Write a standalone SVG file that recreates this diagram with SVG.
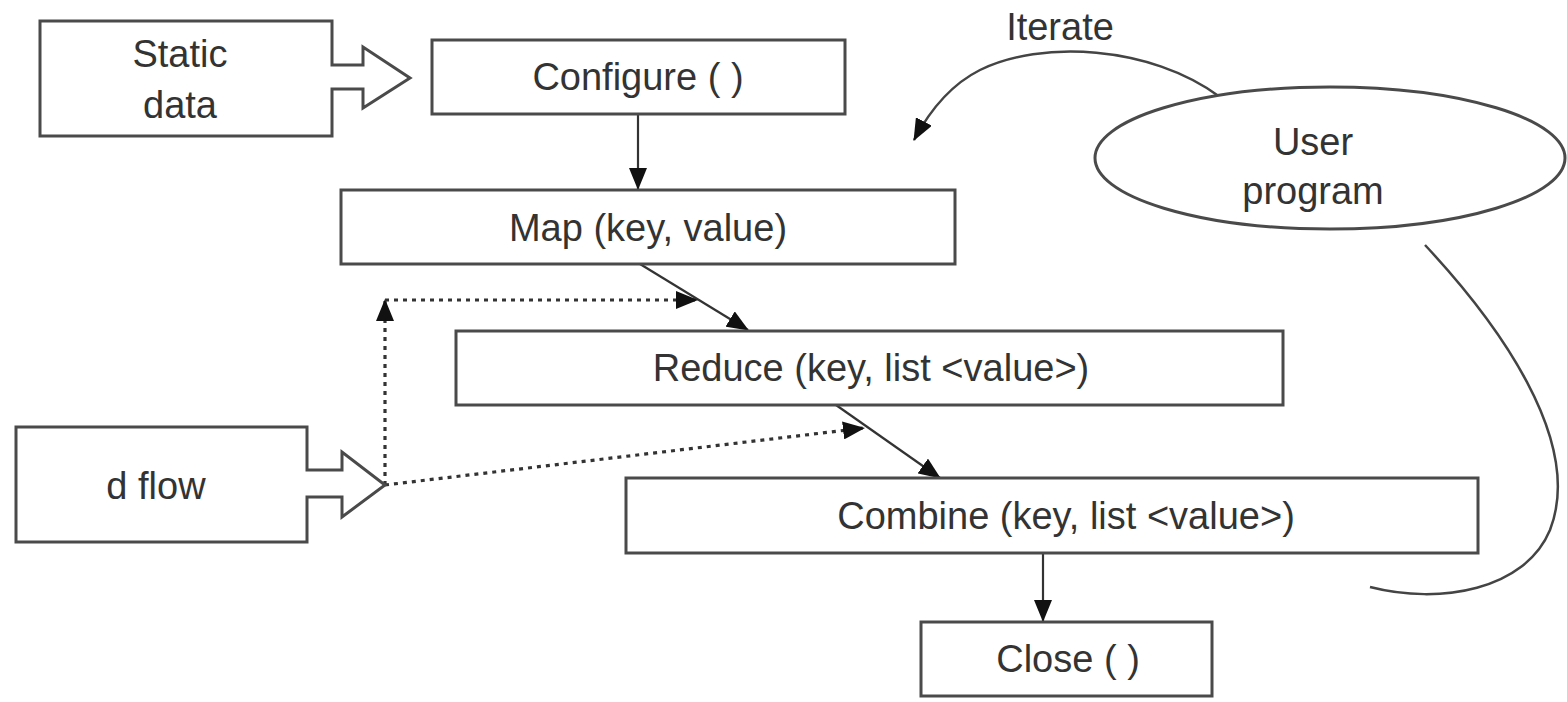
<svg xmlns="http://www.w3.org/2000/svg" width="1567" height="702" viewBox="0 0 1567 702">
  <defs>
    <style>
      .box { fill: #ffffff; stroke: #4a4a4a; stroke-width: 3; stroke-linejoin: miter; }
      .lbl { font-family: "Liberation Sans", Arial, sans-serif; font-size: 38px; fill: #333333; text-anchor: middle; }
      .line { fill: none; stroke: #333333; stroke-width: 2.2; }
      .dot { fill: none; stroke: #333333; stroke-width: 3.2; stroke-dasharray: 4 5; }
      .curve { fill: none; stroke: #444444; stroke-width: 2.5; }
    </style>
    <marker id="tri" viewBox="0 0 22 18" refX="21" refY="9" markerWidth="22" markerHeight="18" markerUnits="userSpaceOnUse" orient="auto">
      <path d="M0,0 L22,9 L0,18 Z" fill="#111111"/>
    </marker>
  </defs>

  <rect width="1567" height="702" fill="#ffffff"/>

  <!-- connectors -->
  <g id="connectors">
    <line class="line" x1="638" y1="114" x2="638" y2="189" marker-end="url(#tri)"/>
    <line class="line" x1="640" y1="264" x2="748" y2="330" marker-end="url(#tri)"/>
    <line class="line" x1="836" y1="405" x2="940" y2="478" marker-end="url(#tri)"/>
    <line class="line" x1="1043" y1="553" x2="1043" y2="621" marker-end="url(#tri)"/>
    <!-- dotted data-flow feeds -->
    <line class="dot" x1="385" y1="485" x2="385" y2="300" marker-end="url(#tri)"/>
    <line class="dot" x1="385" y1="300" x2="697" y2="300" marker-end="url(#tri)"/>
    <line class="dot" x1="385" y1="485" x2="864" y2="428" marker-end="url(#tri)"/>
    <!-- iterate loop -->
    <path class="curve" d="M1220,97 C1150,45 1040,40 980,70 C950,85 930,110 914,140" marker-end="url(#tri)"/>
    <path class="curve" d="M1425,245 C1495,320 1585,440 1550,530 C1525,590 1440,605 1370,587"/>
  </g>

  <!-- box with block arrow drawn as one outline -->
  <g id="static-data">
    <path class="box" d="M40,21 L332,21 L332,65 L363,65 L363,47 L410,78 L363,108 L363,89 L332,89 L332,136 L40,136 Z"/>
    <text class="lbl" x="180" y="67">Static</text>
    <text class="lbl" x="180" y="118">data</text>
  </g>

  <g id="configure">
    <rect class="box" x="432" y="40" width="413" height="74"/>
    <text class="lbl" x="638" y="90">Configure ( )</text>
  </g>

  <g id="map">
    <rect class="box" x="341" y="190" width="614" height="74"/>
    <text class="lbl" x="648" y="241">Map (key, value)</text>
  </g>

  <g id="reduce">
    <rect class="box" x="456" y="331" width="827" height="74"/>
    <text class="lbl" x="871" y="381">Reduce (key, list &lt;value&gt;)</text>
  </g>

  <g id="combine">
    <rect class="box" x="626" y="478" width="852" height="75"/>
    <text class="lbl" x="1066" y="529">Combine (key, list &lt;value&gt;)</text>
  </g>

  <g id="close">
    <rect class="box" x="921" y="622" width="291" height="74"/>
    <text class="lbl" x="1068" y="672">Close ( )</text>
  </g>

  <g id="d-flow">
    <path class="box" d="M16,427 L307,427 L307,470 L342,470 L342,452 L385,485 L342,517 L342,497 L307,497 L307,542 L16,542 Z"/>
    <text class="lbl" x="156" y="499">d flow</text>
  </g>

  <g id="user-program">
    <ellipse class="box" cx="1330" cy="158" rx="235" ry="71" stroke-width="2.5"/>
    <text class="lbl" x="1313" y="155">User</text>
    <text class="lbl" x="1313" y="204">program</text>
  </g>

  <g id="iterate-label">
    <text class="lbl" x="1060" y="40">Iterate</text>
  </g>
</svg>
